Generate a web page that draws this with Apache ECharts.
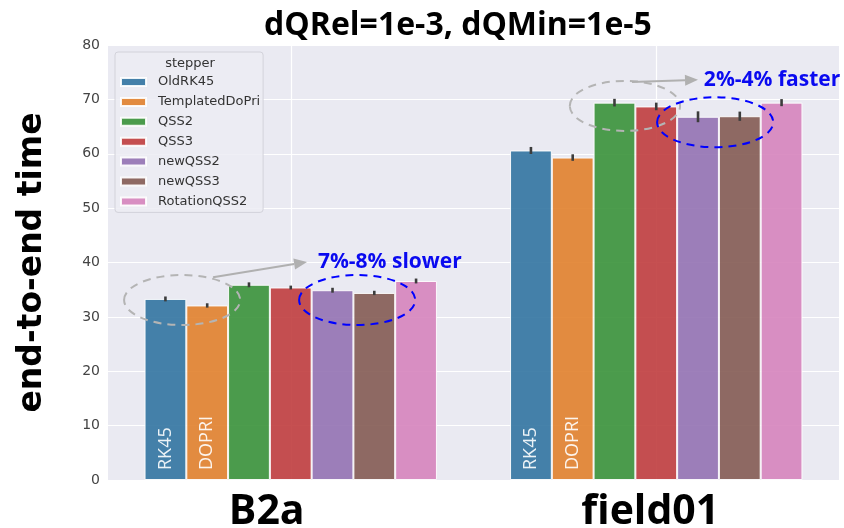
<!DOCTYPE html>
<html>
<head>
<meta charset="utf-8">
<script src="https://cdn.jsdelivr.net/npm/echarts@6/dist/echarts.min.js"></script>
<style>html,body{margin:0;padding:0;background:#fff}#c{width:844px;height:528px}</style>
</head>
<body>
<div id="c"></div>
<script>
// ---- data ----
const categories = ['B2a', 'field01'];
const steppers = ['OldRK45', 'TemplatedDoPri', 'QSS2', 'QSS3', 'newQSS2', 'newQSS3', 'RotationQSS2'];
const oldRK45        = [33.3, 60.6];
const templatedDoPri = [32.1, 59.3];
const qss2           = [35.9, 69.4];
const qss3           = [35.4, 68.7];
const newQSS2        = [34.9, 66.8];
const newQSS3        = [34.4, 66.9];
const rotationQSS2   = [36.6, 69.4];
const errOldRK45        = [0.45, 0.65];
const errTemplatedDoPri = [0.4, 0.6];
const errQss2           = [0.45, 0.7];
const errQss3           = [0.35, 0.7];
const errNewQSS2        = [0.45, 1.0];
const errNewQSS3        = [0.4, 0.85];
const errRotationQSS2   = [0.45, 0.65];
const barNotes = ['RK45', 'DOPRI'];
const annotationTexts = ['7%-8% slower', '2%-4% faster'];

const values = [oldRK45, templatedDoPri, qss2, qss3, newQSS2, newQSS3, rotationQSS2];
const errors = [errOldRK45, errTemplatedDoPri, errQss2, errQss3, errNewQSS2, errNewQSS3, errRotationQSS2];
const colors = ['#3274a1', '#e1812c', '#3a923a', '#c03d3e', '#9372b2', '#845b53', '#d684bd'];

const chart = echarts.init(document.getElementById('c'), null, {renderer: 'canvas'});

const barSeries = steppers.map((name, i) => ({
  name: name,
  type: 'bar',
  data: values[i],
  barGap: '0%',
  barCategoryGap: '20%',
  itemStyle: {color: colors[i], opacity: 0.9, borderColor: '#ffffff', borderWidth: 1},
  label: i < 2 ? {
    show: true, position: 'insideBottom', rotate: 90, align: 'left', verticalAlign: 'middle',
    distance: 10, formatter: barNotes[i], color: '#ffffff',
    fontFamily: 'Open Sans', fontSize: 18
  } : {show: false},
  emphasis: {disabled: true},
  z: 2
}));

const errData = [];
steppers.forEach((s, i) => {
  categories.forEach((c, j) => errData.push([j, i, values[i][j], errors[i][j]]));
});

const errSeries = {
  type: 'custom',
  name: 'err',
  data: errData,
  encode: {x: 0, y: 2},
  z: 5,
  silent: true,
  renderItem: function (params, api) {
    const c = api.value(0), s = api.value(1), v = api.value(2), e = api.value(3);
    const p = api.coord([c, v]);
    const bw = api.size([1, 0])[0] * 0.8 / steppers.length;
    const x = p[0] + (s - (steppers.length - 1) / 2) * bw;
    const top = api.coord([c, v + e])[1];
    const bot = api.coord([c, v - e])[1];
    return {type: 'line', shape: {x1: x, y1: top, x2: x, y2: bot}, style: {stroke: '#3c3c3c', lineWidth: 2.6}};
  }
};

chart.setOption({
  animation: false,
  backgroundColor: '#ffffff',
  title: [{
    text: 'dQRel=1e-3, dQMin=1e-5', left: 458, top: 10, textAlign: 'center', padding: 0,
    textStyle: {fontFamily: 'Open Sans', fontWeight: 'bold', fontSize: 32, color: '#000'}
  }, {
    text: 'stepper', left: 190, top: 57, textAlign: 'center', padding: 0, z: 10,
    textStyle: {fontFamily: 'DejaVu Sans', fontWeight: 'normal', fontSize: 13, color: '#333'}
  }],
  legend: {
    data: steppers, orient: 'vertical', left: 115, top: 52,
    padding: [23, 3, 4, 5], itemGap: 5.9, itemWidth: 25, itemHeight: 8, icon: 'rect',
    backgroundColor: 'rgba(236,236,243,0.85)', borderColor: '#d2d2da', borderWidth: 1, borderRadius: 3,
    textStyle: {fontFamily: 'DejaVu Sans', fontSize: 13, color: '#333', lineHeight: 14, padding: [0, 0, 0, 7]},
    selectedMode: false
  },
  grid: {left: 108, right: 5, top: 45, bottom: 48, containLabel: false, outerBoundsMode: 'none',
    show: true, backgroundColor: '#eaeaf2', borderWidth: 0},
  xAxis: [{
    type: 'category', data: categories,
    axisLine: {show: false}, axisTick: {show: false}, splitLine: {show: false},
    axisLabel: {
      margin: 12,
      formatter: function (v) { return v === 'B2a' ? '{a|' + v + '}' : '{b|' + v + '}'; },
      rich: {
        a: {fontFamily: 'Open Sans', fontWeight: 'bold', fontSize: 41, color: '#000', padding: [0, 48, 0, 0]},
        b: {fontFamily: 'Open Sans', fontWeight: 'bold', fontSize: 41, color: '#000', padding: [0, 12, 0, 0]}
      }
    }
  }, {
    type: 'category', data: ['a', 'b', 'c', 'd', 'e'], boundaryGap: false, position: 'bottom',
    axisLine: {show: false}, axisTick: {show: false}, axisLabel: {show: false},
    splitLine: {show: true, interval: function (idx) { return idx % 2 === 1; }, lineStyle: {color: '#ffffff', width: 1.2}}
  }],
  yAxis: {
    type: 'value', min: 0, max: 80, interval: 10,
    name: 'end-to-end time', nameLocation: 'middle', nameGap: 59, nameRotate: 90,
    nameTextStyle: {fontFamily: 'DejaVu Sans', fontWeight: 'bold', fontSize: 33, color: '#000'},
    axisLine: {show: false}, axisTick: {show: false},
    axisLabel: {fontFamily: 'DejaVu Sans', fontSize: 14, color: '#444', margin: 8},
    splitLine: {show: true, lineStyle: {color: '#ffffff', width: 1.2}}
  },
  series: barSeries.concat([errSeries])
});

// ---- annotations (positions in data space: category, bar offset, value) ----
const annoEllipses = [
  {cat: 0, bar: 0.40, val: 33.1, rx: 1.39, ry: 4.6, color: '#b4b4b4'},
  {cat: 0, bar: 4.59, val: 33.1, rx: 1.39, ry: 4.6, color: '#0000ff'},
  {cat: 1, bar: 2.25, val: 68.8, rx: 1.32, ry: 4.6, color: '#b4b4b4'},
  {cat: 1, bar: 4.41, val: 65.8, rx: 1.39, ry: 4.6, color: '#0000ff'}
];
const annoArrows = [
  {cat: 0, bar1: 1.14, val1: 37.3, bar2: 3.39, val2: 40.1},
  {cat: 1, bar1: 2.42, val1: 73.2, bar2: 4.00, val2: 73.6}
];
const annoLabels = [
  {cat: 0, bar: 3.65, val: 40.1},
  {cat: 1, bar: 4.14, val: 73.6}
];

function px(cat, bar, val) {
  const p0 = chart.convertToPixel({xAxisIndex: 0, yAxisIndex: 0}, [cat, val]);
  const p1 = chart.convertToPixel({xAxisIndex: 0, yAxisIndex: 0}, [cat + 1, val]);
  const bw = (p1[0] - p0[0]) * 0.8 / steppers.length;
  return [p0[0] + (bar - (steppers.length - 1) / 2) * bw, p0[1], bw];
}
function unitPx() {
  const a = chart.convertToPixel({yAxisIndex: 0}, 0), b = chart.convertToPixel({yAxisIndex: 0}, 1);
  return Math.abs(a - b);
}
const graphics = [];
const u = unitPx();
annoEllipses.forEach(e => {
  const p = px(e.cat, e.bar, e.val);
  graphics.push({type: 'ellipse', z: 20, shape: {cx: p[0], cy: p[1], rx: e.rx * p[2], ry: e.ry * u},
    style: {fill: null, stroke: e.color, lineWidth: 2, lineDash: [8, 6]}});
});
annoArrows.forEach(a => {
  const s = px(a.cat, a.bar1, a.val1), t = px(a.cat, a.bar2, a.val2);
  const dx = t[0] - s[0], dy = t[1] - s[1], L = Math.sqrt(dx * dx + dy * dy);
  const ux = dx / L, uy = dy / L, hl = 13, hw = 5.5;
  const bx = t[0] - ux * hl, by = t[1] - uy * hl;
  graphics.push({type: 'line', z: 20, shape: {x1: s[0], y1: s[1], x2: bx, y2: by}, style: {stroke: '#b0b0b0', lineWidth: 2}});
  graphics.push({type: 'polygon', z: 20, shape: {points: [[t[0], t[1]], [bx - uy * hw, by + ux * hw], [bx + uy * hw, by - ux * hw]]},
    style: {fill: '#b0b0b0'}});
});
annoLabels.forEach((l, i) => {
  const p = px(l.cat, l.bar, l.val);
  graphics.push({type: 'text', z: 21, x: p[0], y: p[1], style: {text: annotationTexts[i], fill: '#0a0af0',
    font: 'bold 21px "Open Sans"', align: 'left', verticalAlign: 'middle'}});
});
chart.setOption({graphic: graphics});
</script>
</body>
</html>
